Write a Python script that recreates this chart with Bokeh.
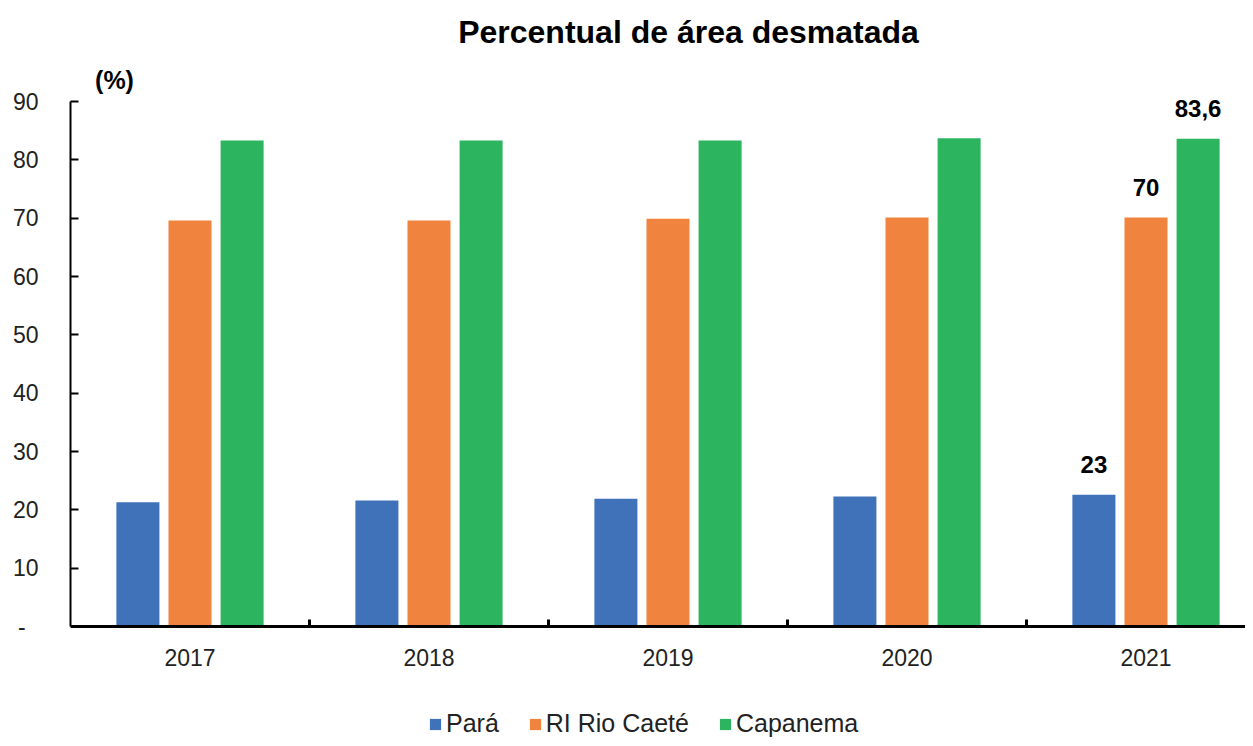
import numpy as np
from bokeh.plotting import figure
from bokeh.models import (Range1d, FixedTicker, ColumnDataSource, Label, Legend,
                          LegendItem, LabelSet)
from bokeh.core.properties import value
from bokeh.embed import file_html
from bokeh.resources import INLINE

# ---- data ----
years = ["2017", "2018", "2019", "2020", "2021"]
para = [21.3, 21.6, 21.9, 22.3, 22.6]
rio_caete = [69.6, 69.6, 69.9, 70.1, 70.1]
capanema = [83.3, 83.3, 83.3, 83.7, 83.6]
series_names = ["Pará", "RI Rio Caeté", "Capanema"]
series_colors = ["#4072BA", "#F0843F", "#2DB45E"]
last_labels = ["23", "70", "83,6"]
y_ticks = [0, 10, 20, 30, 40, 50, 60, 70, 80, 90]
y_tick_labels = ["-\u2007", "10", "20", "30", "40", "50", "60", "70", "80", "90"]
title_text = "Percentual de área desmatada"
unit_text = "(%)"

SANS = "Liberation Sans"

centers = np.arange(len(years)) + 0.5
offsets = [-0.218, 0.0, 0.218]
bar_w = 0.18

# pixel scale: 525 px for 90 units on y, 239 px per category on x
px_per_unit = 525 / 90.0
y_top = 90 + 101 / px_per_unit
y_bot = -(738 - 626) / px_per_unit
x_end = 1175 / 239.0

p = figure(width=1245, height=738, output_backend="svg", toolbar_location=None,
           x_range=Range1d(0, x_end), y_range=Range1d(y_bot, y_top),
           min_border_left=70, min_border_right=0, min_border_top=0,
           min_border_bottom=0)
p.outline_line_color = None
p.xgrid.grid_line_color = None
p.ygrid.grid_line_color = None
p.background_fill_color = "white"
p.border_fill_color = "white"

renderers = []
for vals, off, col in zip([para, rio_caete, capanema], offsets, series_colors):
    src = ColumnDataSource(dict(x=centers + off, top=vals))
    r = p.vbar(x="x", top="top", width=bar_w, bottom=0, source=src,
               fill_color=col, line_color=None)
    renderers.append(r)

# labels on 2021 bars
lab_src = ColumnDataSource(dict(
    x=[centers[-1] + o for o in offsets],
    y=[para[-1], rio_caete[-1], capanema[-1]],
    t=last_labels))
p.add_layout(LabelSet(x="x", y="y", text="t", source=lab_src,
                      text_align="center", text_baseline="bottom", y_offset=22,
                      text_font=value(SANS), text_font_style="bold",
                      text_font_size="24px", text_color="black"))

# y axis
ya = p.yaxis[0]
ya.bounds = (0, 90)
ya.ticker = FixedTicker(ticks=y_ticks)
ya.major_label_overrides = {t: l for t, l in zip(y_ticks, y_tick_labels)}
ya.major_tick_in = 8
ya.major_tick_out = 0
ya.minor_tick_line_color = None
ya.axis_line_width = 2
ya.axis_line_color = "black"
ya.major_tick_line_color = "black"
ya.major_tick_line_width = 2
ya.major_label_standoff = 32
ya.major_label_text_font = SANS
ya.major_label_text_font_size = "23px"
ya.major_label_text_color = "#222222"

# x axis, drawn at y = 0
xa = p.xaxis[0]
xa.fixed_location = 0
xa.ticker = FixedTicker(ticks=list(centers), minor_ticks=[1, 2, 3, 4])
xa.major_label_overrides = {float(c): y for c, y in zip(centers, years)}
xa.major_tick_in = 0
xa.major_tick_out = 0
xa.minor_tick_in = 7
xa.minor_tick_out = 0
xa.minor_tick_line_color = "black"
xa.minor_tick_line_width = 3
xa.axis_line_width = 3
xa.axis_line_color = "black"
xa.major_label_standoff = 22
xa.major_label_text_font = SANS
xa.major_label_text_font_size = "23px"
xa.major_label_text_color = "#222222"

# title and unit
p.add_layout(Label(x=(689 - 71) / 239, y=90 + (102 - 32) / px_per_unit,
                   text=title_text, text_align="center",
                   text_baseline="middle", text_font=SANS,
                   text_font_style="bold", text_font_size="32px",
                   text_color="black"))
p.add_layout(Label(x=(115 - 71) / 239, y=90 + (102 - 80) / px_per_unit,
                   text=unit_text, text_align="center", text_baseline="middle",
                   text_font=SANS, text_font_style="bold",
                   text_font_size="25px", text_color="black"))

legend = Legend(items=[LegendItem(label=n, renderers=[r])
                       for n, r in zip(series_names, renderers)],
                orientation="horizontal", location=(358, 0),
                glyph_width=14, glyph_height=14, label_standoff=4, spacing=29,
                label_height=22, padding=0, margin=0, border_line_color=None,
                background_fill_alpha=0,
                label_text_font=SANS, label_text_font_size="25px",
                label_text_color="#222222")
p.add_layout(legend, "center")

open("out.html", "w").write(file_html(p, INLINE))
